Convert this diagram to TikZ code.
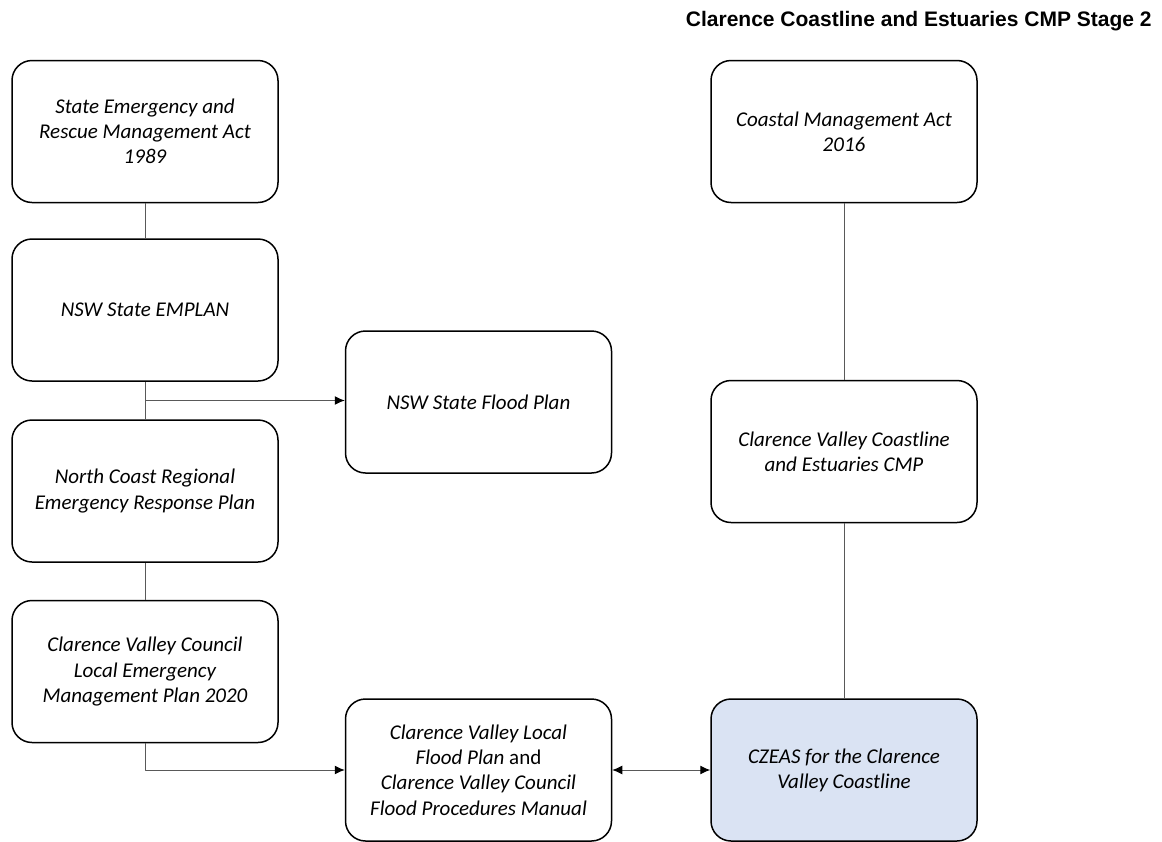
\documentclass[tikz,border=0pt]{standalone}
\usepackage{fontspec}
\setmainfont{Carlito}
\newfontfamily\headfont{Liberation Sans}
\usetikzlibrary{arrows.meta}
\definecolor{czeasblue}{HTML}{DAE3F3}
\tikzset{
	plan/.style={draw,rounded corners=10pt,line width=0.75pt,minimum width=133pt,minimum height=71pt,
		align=center,font=\itshape\fontsize{10.5}{12.6}\selectfont},
	link/.style={draw=black!65,line width=0.5pt},
}
\begin{document}
\begin{tikzpicture}[>={Latex[length=5pt,width=4.5pt,black]},line join=round,x=0.5pt,y=-0.5pt]
	\useasboundingbox (0,0) rectangle (1162,841);
	\node[anchor=base east,inner sep=0pt,font=\headfont\bfseries\fontsize{10.5}{12}\selectfont] (title) at (1152,26)
		{Clarence Coastline and Estuaries CMP Stage 2};
	% emergency management chain
	\node[plan] (sermact) at (145,131.5) {State Emergency and\\Rescue Management Act\\1989};
	\node[plan] (emplan) at (145,310) {NSW State EMPLAN};
	\node[plan] (ncrerp) at (145,491) {North Coast Regional\\Emergency Response Plan};
	\node[plan] (lemp) at (145,671.5) {Clarence Valley Council\\Local Emergency\\Management Plan 2020};
	\node[plan] (floodplan) at (478.5,402) {NSW State Flood Plan};
	\node[plan] (lfp) at (478.5,770) {Clarence Valley Local\\Flood Plan {\upshape and}\\Clarence Valley Council\\Flood Procedures Manual};
	% coastal management chain
	\node[plan] (cma) at (844,131.5) {Coastal Management Act\\2016};
	\node[plan] (cvcmp) at (844,451.5) {Clarence Valley Coastline\\and Estuaries CMP};
	\node[plan,fill=czeasblue] (czeas) at (844,770) {CZEAS for the Clarence\\Valley Coastline};
	%
	\draw[link] (sermact) -- (emplan);
	\draw[link] (emplan) -- (ncrerp) coordinate[pos=0.5] (fork);
	\draw[link,->] (fork) -- (fork -| floodplan.west);
	\draw[link] (ncrerp) -- (lemp);
	\draw[link,->] (lemp.south) |- (lfp.west);
	\draw[link,<->] (lfp) -- (czeas);
	\draw[link] (cma) -- (cvcmp);
	\draw[link] (cvcmp) -- (czeas);
\end{tikzpicture}
\end{document}
